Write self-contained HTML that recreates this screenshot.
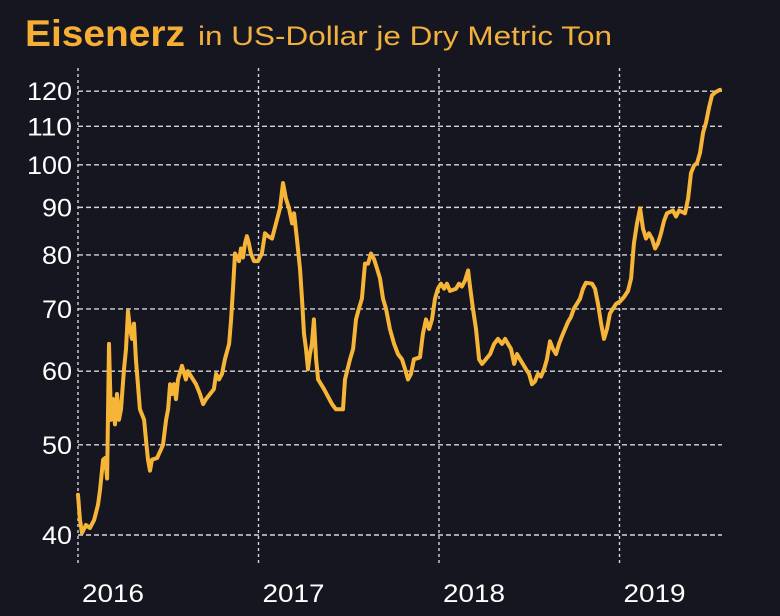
<!DOCTYPE html>
<html><head><meta charset="utf-8"><style>
html,body{margin:0;padding:0;background:#15161f;}
svg{display:block;font-family:"Liberation Sans","DejaVu Sans",sans-serif;}
</style></head><body>
<svg id="chart" width="780" height="616" viewBox="0 0 780 616">
<rect x="0" y="0" width="780" height="616" fill="#15161f"/>
<text x="25" y="46" fill="#f6ae35" font-size="37" font-weight="bold" textLength="160" lengthAdjust="spacingAndGlyphs">Eisenerz</text>
<text x="198" y="45" fill="#f2b13e" font-size="27" textLength="414" lengthAdjust="spacingAndGlyphs">in US-Dollar je Dry Metric Ton</text>
<g id="grid"></g>
<g id="yaxis"></g>
<g id="xaxis"></g>
<g id="series"></g>
</svg>
<script>
const yTicks=[40,50,60,70,80,90,100,110,120];
const xYears=[2016,2017,2018,2019];
const dateOffsets=[0,.011,.022,.044,.066,.089,.111,.122,.139,.150,.161,.172,.183,.194,.205,.216,.227,.238,.255,.266,.277,.288,.299,.310,.321,.332,.343,.366,.377,.388,.399,.410,.438,.471,.488,.499,.510,.521,.532,.543,.554,.576,.598,.609,.637,.654,.676,.693,.709,.753,.765,.781,.798,.814,.837,.848,.859,.870,.892,.903,.914,.925,.936,.947,.958,.975,.997,1.019,1.036,1.053,1.075,1.097,1.119,1.136,1.152,1.169,1.186,1.197,1.213,1.230,1.241,1.252,1.263,1.274,1.285,1.296,1.307,1.319,1.330,1.363,1.407,1.429,1.468,1.479,1.507,1.524,1.540,1.557,1.573,1.590,1.607,1.623,1.640,1.657,1.673,1.690,1.706,1.728,1.751,1.773,1.795,1.812,1.828,1.845,1.861,1.895,1.911,1.928,1.945,1.961,1.978,1.994,2.011,2.028,2.044,2.061,2.094,2.111,2.127,2.144,2.161,2.172,2.188,2.205,2.222,2.238,2.260,2.283,2.305,2.327,2.349,2.366,2.382,2.399,2.416,2.432,2.449,2.482,2.499,2.515,2.532,2.548,2.565,2.582,2.598,2.615,2.631,2.648,2.665,2.681,2.698,2.715,2.731,2.748,2.764,2.781,2.798,2.814,2.848,2.864,2.881,2.898,2.914,2.931,2.947,2.981,3.003,3.025,3.047,3.064,3.080,3.097,3.114,3.130,3.147,3.163,3.180,3.197,3.213,3.230,3.247,3.263,3.296,3.313,3.330,3.363,3.380,3.396,3.413,3.430,3.446,3.463,3.479,3.496,3.512,3.529,3.557];
const prices=[44.2,41.5,40.2,41.0,40.7,41.5,43.1,44.7,48.2,48.4,46.0,64.2,53.2,56.0,52.6,56.7,53.2,54.6,60.3,63.4,69.6,66.6,65.0,67.5,61.8,58.1,54.6,53.2,50.6,48.2,46.9,48.2,48.4,50.0,53.2,54.6,58.1,56.7,58.1,56.0,58.8,60.8,58.8,60.0,58.8,58.1,56.7,55.3,56.0,57.4,59.6,58.8,59.6,61.8,64.2,68.2,73.6,80.3,78.8,81.3,79.5,82.3,83.8,82.3,80.3,78.8,78.8,80.3,84.4,83.8,83.3,86.5,89.8,95.6,92.0,89.8,86.5,88.7,83.3,77.3,71.8,65.8,63.4,60.3,62.6,64.2,68.2,61.8,58.8,57.4,55.3,54.6,54.6,58.8,61.8,63.4,68.2,70.1,71.8,78.3,78.3,80.3,79.2,77.3,75.5,71.8,70.1,66.6,64.2,62.6,61.8,60.3,58.8,59.6,61.8,62.1,65.8,68.2,66.6,68.2,71.8,73.6,74.5,73.6,74.5,73.2,73.6,74.5,74.0,75.1,77.0,74.0,70.1,66.6,61.8,61.1,61.8,62.6,64.2,65.0,64.2,65.0,64.2,63.4,61.1,62.6,61.8,60.3,59.6,58.1,58.5,59.6,59.2,60.3,61.8,64.6,63.4,62.6,64.2,65.4,66.6,67.8,68.6,70.1,70.9,71.8,73.6,74.7,74.5,73.6,70.9,67.5,65.0,66.6,69.2,70.9,71.3,72.1,73.2,75.5,82.3,86.5,89.8,85.4,83.3,84.4,83.3,81.3,82.3,84.4,87.1,88.7,89.3,88.0,89.3,88.7,92.0,98.0,99.8,100.5,103.0,108.3,111.0,115.2,118.7,119.6,120.4];

const NS='http://www.w3.org/2000/svg';
const X0=78,PXYR=180.5,Y40=535,PXLN=404,XR=722,YT=68,YB=563;
function xs(yr){return X0+(yr-2016)*PXYR;}
function ys(v){return Y40-Math.log(v/40)*PXLN;}
function mk(tag,attrs,parent){const e=document.createElementNS(NS,tag);for(const k in attrs)e.setAttribute(k,attrs[k]);parent.appendChild(e);return e;}
const grid=document.getElementById('grid'),ya=document.getElementById('yaxis'),xa=document.getElementById('xaxis'),se=document.getElementById('series');
yTicks.forEach(v=>{
  const y=ys(v);
  const l=mk('line',{x1:X0,x2:XR,y1:y,y2:y,stroke:'#d6d6d6','stroke-width':1.4,'stroke-dasharray':'5,3'},grid);
  
  
  const t=mk('text',{x:72,y:y+9,'text-anchor':'end',fill:'#ffffff','font-size':25,textLength:String(v).length*15,lengthAdjust:'spacingAndGlyphs'},ya);
  t.textContent=v;
  
  
});
xYears.forEach(yr=>{
  const x=xs(yr);
  const l=mk('line',{x1:x,x2:x,y1:YT,y2:YB,stroke:'#d6d6d6','stroke-width':1.4,'stroke-dasharray':'3,3'},grid);
  
  
  const t=mk('text',{x:x+4,y:602,fill:'#ffffff','font-size':25,textLength:62,lengthAdjust:'spacingAndGlyphs'},xa);
  t.textContent=yr;
  
  
});
const d=prices.map((v,i)=>(i?'L':'M')+xs(2016+dateOffsets[i]).toFixed(1)+','+ys(v).toFixed(1)).join(' ');
const p=mk('path',{d:d,fill:'none',stroke:'#f7b538','stroke-width':4,'stroke-linejoin':'round','stroke-linecap':'round'},se);


</script>
</body></html>
